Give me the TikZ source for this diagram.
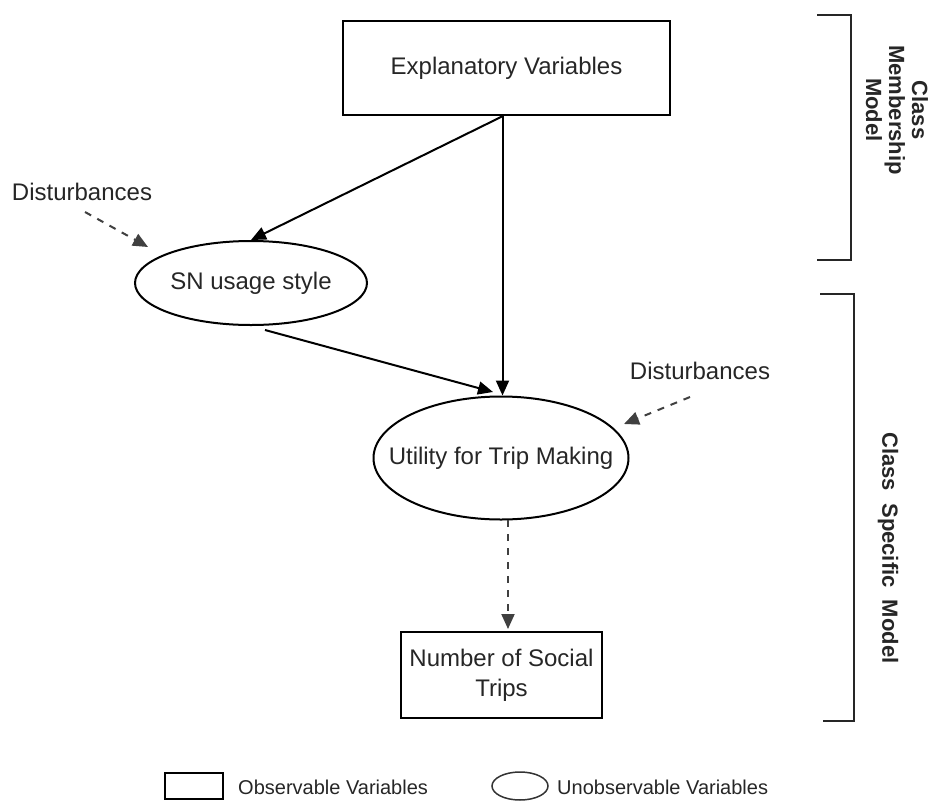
\documentclass[tikz,border=0pt]{standalone}
\usepackage{fontspec}
\setmainfont{Liberation Sans}
\usetikzlibrary{arrows.meta,shapes.geometric}
\begin{document}
\begin{tikzpicture}[x=1pt,y=-1pt,
  txt/.style={font=\fontsize{24}{30}\selectfont, text=black!85},
  legtxt/.style={font=\fontsize{20}{24}\selectfont, text=black!85, anchor=west, inner sep=0pt},
  sidetxt/.style={font=\bfseries\fontsize{22}{23}\selectfont, text=black!85, rotate=-90, align=center, inner sep=0pt},
  obsbox/.style={draw, line width=2.5pt, rectangle, inner sep=0pt, txt, align=center},
  unobs/.style={draw, line width=2pt, ellipse, inner sep=0pt},
  solidarrow/.style={line width=2pt, -{Triangle[length=15pt,width=13pt]}},
  dasharrow/.style={line width=2pt, draw=black!75, dash pattern=on 7pt off 7pt, -{Triangle[length=15pt,width=13pt]}},
  bracket/.style={line width=2pt, draw=black!85},
]
\useasboundingbox (0,0) rectangle (930,801);

% nodes
\node[obsbox, minimum width=327pt, minimum height=94pt] (E) at (506.5,68) {Explanatory Variables};
\node[unobs, minimum width=232pt, minimum height=84pt, label={[txt]center:SN usage style}] (SN) at (251,283) {};
\node[unobs, minimum width=255pt, minimum height=123pt, label={[txt]center:Utility for Trip Making}] (U) at (501,458) {};
\node[obsbox, minimum width=201pt, minimum height=86pt] (N) at (501.5,675) {Number of Social\\Trips};
\node[txt, inner sep=0pt] (D1) at (82,192) {Disturbances};
\node[txt, inner sep=0pt] (D2) at (700,371) {Disturbances};

% connector end points
\coordinate (src) at ([xshift=-4pt]E.south);
\coordinate (d1s) at (85,212);
\coordinate (d1e) at (148,247);
\coordinate (d2s) at (690,397);
\coordinate (d2e) at (624,424);
\coordinate (sns) at (265,330);
\coordinate (une) at (493,392);
\coordinate (us) at (508,520);
\coordinate (ne) at (508,629);

% connectors
\draw[solidarrow] (src) -- (SN.north);
\draw[solidarrow] (src) -- (src |- U.north);
\draw[solidarrow] (sns) -- (une);
\draw[dasharrow] (d1s) -- (d1e);
\draw[dasharrow] (d2s) -- (d2e);
\draw[dasharrow] (us) -- (ne);

% brackets
\draw[bracket] (817,15) -- (851,15) -- (851,260) -- (817,260);
\draw[bracket] (820,294) -- (854,294) -- (854,721) -- (823,721);
\node[sidetxt] (CM) at (897,110) {Class\\Membership\\Model};
\node[sidetxt] (CS) at (888,548) {Class\ \ Specific\ \ Model};

% legend
\node[draw, line width=1.5pt, rectangle, minimum width=58pt, minimum height=26pt, inner sep=0pt] (LR) at (194,786) {};
\node[legtxt] (LRT) at (238,787) {Observable Variables};
\node[draw, line width=1.5pt, ellipse, minimum width=56pt, minimum height=28pt, inner sep=0pt, draw=black!80] (LE) at (520,786) {};
\node[legtxt] (LET) at (557,787) {Unobservable Variables};
\end{tikzpicture}
\end{document}
